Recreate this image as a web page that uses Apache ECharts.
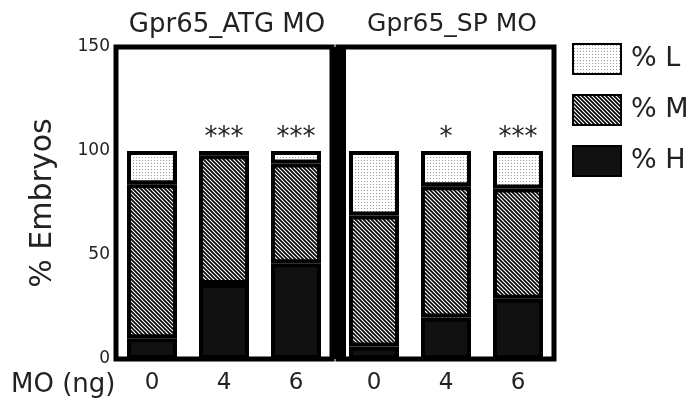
<!DOCTYPE html>
<html>
<head>
<meta charset="utf-8">
<script src="https://cdn.jsdelivr.net/npm/echarts@6/dist/echarts.min.js"></script>
<style>
  html, body { margin: 0; padding: 0; background: #fff; }
  #chart { width: 695px; height: 406px; }
</style>
</head>
<body>
<div id="chart"></div>
<script>
// dose of morpholino per bar
var doses = ['0', '4', '6'];
var panelTitles = ['Gpr65_ATG MO', 'Gpr65_SP MO'];
var yTicks = [0, 50, 100, 150];

// % of embryos per phenotype class
var atgH = [10, 36, 46];
var atgM = [74, 62, 48];
var atgL = [16, 2, 6];
var spH = [6, 20, 29];
var spM = [63, 63, 53];
var spL = [31, 17, 18];

// significance marks above bars
var atgSig = ['', '***', '***'];
var spSig = ['', '*', '***'];

// fill patterns like the printed figure
function makePattern(size, draw) {
  var c = document.createElement('canvas');
  c.width = size; c.height = size;
  var ctx = c.getContext('2d');
  ctx.fillStyle = '#fff';
  ctx.fillRect(0, 0, size, size);
  draw(ctx, size);
  return { image: c, repeat: 'repeat' };
}
var hatch = makePattern(4, function (ctx, s) {
  ctx.strokeStyle = '#000';
  ctx.lineWidth = 1.6;
  ctx.beginPath();
  ctx.moveTo(-1, -1); ctx.lineTo(s + 1, s + 1);
  ctx.moveTo(-1, s - 1); ctx.lineTo(1, s + 1);
  ctx.moveTo(s - 1, -1); ctx.lineTo(s + 1, 1);
  ctx.stroke();
});
var dots = makePattern(3, function (ctx) {
  ctx.fillStyle = '#999';
  ctx.fillRect(1, 1, 1, 1);
});

var font = 'DejaVu Sans, sans-serif';
var ink = '#222';

function barSeries(name, data, fill, idx, stack, sig) {
  var s = {
    name: name,
    type: 'bar',
    stack: stack,
    xAxisIndex: idx,
    yAxisIndex: idx,
    barWidth: 50,
    data: data,
    itemStyle: { color: fill, borderColor: '#000', borderWidth: 4 },
    emphasis: { disabled: true }
  };
  if (sig) {
    s.label = {
      show: true,
      position: 'top',
      distance: 0,
      color: ink,
      fontSize: 26,
      fontFamily: font,
      formatter: function (p) { return sig[p.dataIndex]; }
    };
  }
  return s;
}

function xAxis(idx) {
  return {
    type: 'category',
    gridIndex: idx,
    data: doses,
    axisLine: { show: false },
    axisTick: { show: false },
    axisLabel: { color: ink, fontSize: 23, fontFamily: font, margin: 13 }
  };
}

var chart = echarts.init(document.getElementById('chart'), null, { renderer: 'canvas' });
chart.setOption({
  animation: false,
  backgroundColor: '#fff',
  title: [
    { text: panelTitles[0], left: 222, top: 7, textAlign: 'center',
      textStyle: { color: ink, fontSize: 26, fontWeight: 'normal', fontFamily: font } },
    { text: panelTitles[1], left: 447, top: 7, textAlign: 'center',
      textStyle: { color: ink, fontSize: 25, fontWeight: 'normal', fontFamily: font } }
  ],
  legend: {
    data: ['% L', '% M', '% H'],
    orient: 'vertical',
    left: 572,
    top: 43,
    padding: 0,
    itemWidth: 48,
    itemHeight: 30,
    itemGap: 19,
    icon: 'rect',
    selectedMode: false,
    textStyle: { color: ink, fontSize: 27, fontFamily: font, padding: [0, 0, 0, 5] }
  },
  grid: [
    { left: 116, top: 47, width: 216, height: 312, show: true, borderColor: '#000', borderWidth: 5 },
    { left: 338, top: 47, width: 216, height: 312, show: true, borderColor: '#000', borderWidth: 5 }
  ],
  xAxis: [xAxis(0), xAxis(1)],
  yAxis: [
    {
      type: 'value', gridIndex: 0, min: yTicks[0], max: yTicks[yTicks.length - 1], interval: 50,
      name: '% Embryos', nameLocation: 'middle', nameGap: 58,
      nameTextStyle: { color: ink, fontSize: 30, fontFamily: font },
      axisLine: { show: false },
      axisTick: { show: false },
      splitLine: { show: false },
      axisLabel: { color: ink, fontSize: 17, fontFamily: font, margin: 6 }
    },
    {
      type: 'value', gridIndex: 1, min: yTicks[0], max: yTicks[yTicks.length - 1], interval: 50,
      axisLine: { show: true, lineStyle: { color: '#000', width: 16, cap: 'butt' } },
      axisTick: { show: false },
      splitLine: { show: false },
      axisLabel: { show: false }
    }
  ],
  graphic: [
    { type: 'text', left: 11, top: 372,
      style: { text: 'MO (ng)', fill: ink, fontSize: 26, fontFamily: font } }
  ],
  series: [
    barSeries('% H', atgH, '#111', 0, 'atg'),
    barSeries('% M', atgM, hatch, 0, 'atg'),
    barSeries('% L', atgL, dots, 0, 'atg', atgSig),
    barSeries('% H', spH, '#111', 1, 'sp'),
    barSeries('% M', spM, hatch, 1, 'sp'),
    barSeries('% L', spL, dots, 1, 'sp', spSig)
  ]
});
</script>
</body>
</html>
